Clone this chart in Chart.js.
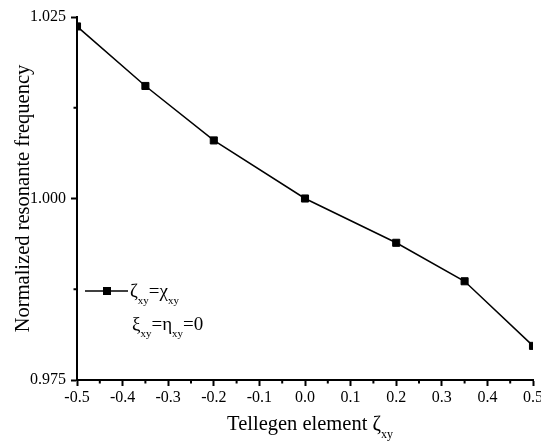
<!DOCTYPE html>
<html><head><meta charset="utf-8">
<script src="https://cdn.jsdelivr.net/npm/chart.js@4.4.1/dist/chart.umd.min.js"></script>
<style>html,body{margin:0;padding:0;overflow:hidden;background:#fff;width:541px;height:441px}</style>
</head><body>
<canvas id="c" width="560" height="441"></canvas>
<script>
// ---- data ----
const tellegen = [-0.5, -0.35, -0.2, 0.0, 0.2, 0.35, 0.5];
const normFreq = [1.0237, 1.0155, 1.0080, 1.0000, 0.9939, 0.9886, 0.9797];
const xTickValues = [-0.5, -0.4, -0.3, -0.2, -0.1, 0.0, 0.1, 0.2, 0.3, 0.4, 0.5];
const xTickLabels = ['-0.5', '-0.4', '-0.3', '-0.2', '-0.1', '0.0', '0.1', '0.2', '0.3', '0.4', '0.5'];
const xMinorTicks = [-0.45, -0.35, -0.25, -0.15, -0.05, 0.05, 0.15, 0.25, 0.35, 0.45];
const yTickValues = [0.975, 1.000, 1.025];
const yTickLabels = ['0.975', '1.000', '1.025'];
const yMinorTicks = [0.9875, 1.0125];
const yTitleText = 'Normalized resonante frequency';
const xTitleParts = [['Tellegen element ζ', 'xy']];
const legendRows = [
  [['ζ', 'xy'], ['=χ', 'xy']],
  [['ξ', 'xy'], ['=η', 'xy'], ['=0', '']]
];

const FONT = 'Liberation Serif';
const points = tellegen.map((x, i) => ({x: x, y: normFreq[i]}));

function drawRich(ctx, parts, x, baseline, size, subSize, subDrop) {
  let cx = x;
  for (const [main, sub] of parts) {
    ctx.font = size + 'px "' + FONT + '"';
    ctx.fillText(main, cx, baseline);
    cx += ctx.measureText(main).width;
    if (sub) {
      ctx.font = subSize + 'px "' + FONT + '"';
      ctx.fillText(sub, cx, baseline + subDrop);
      cx += ctx.measureText(sub).width;
    }
  }
  return cx - x;
}
function richWidth(ctx, parts, size, subSize) {
  let w = 0;
  for (const [main, sub] of parts) {
    ctx.font = size + 'px "' + FONT + '"'; w += ctx.measureText(main).width;
    if (sub) { ctx.font = subSize + 'px "' + FONT + '"'; w += ctx.measureText(sub).width; }
  }
  return w;
}

const extras = {
  id: 'extras',
  afterDraw(chart) {
    const ctx = chart.ctx;
    const xs = chart.scales.x, ys = chart.scales.y;
    const area = chart.chartArea;
    ctx.save();
    // minor ticks
    ctx.strokeStyle = '#000'; ctx.lineWidth = 2;
    ctx.beginPath();
    for (const v of xMinorTicks) {
      const px = xs.getPixelForValue(v);
      ctx.moveTo(px, area.bottom); ctx.lineTo(px, area.bottom + 3.5);
    }
    for (const v of yMinorTicks) {
      const py = ys.getPixelForValue(v);
      ctx.moveTo(area.left, py); ctx.lineTo(area.left - 3.5, py);
    }
    ctx.stroke();
    // x title with subscript
    ctx.fillStyle = '#000'; ctx.textBaseline = 'alphabetic'; ctx.textAlign = 'left';
    const tw = richWidth(ctx, xTitleParts, 20.5, 12);
    drawRich(ctx, xTitleParts, (area.left + area.right) / 2 + 5 - tw / 2, 430, 20.5, 12, 8);
    // legend
    const ly = 291;
    ctx.lineWidth = 1.5;
    ctx.beginPath(); ctx.moveTo(85, ly); ctx.lineTo(128, ly); ctx.stroke();
    ctx.fillRect(103, ly - 4, 8, 8);
    drawRich(ctx, legendRows[0], 130, 297, 19, 11, 7);
    drawRich(ctx, legendRows[1], 132, 330, 19, 11, 7);
    ctx.restore();
  }
};

new Chart(document.getElementById('c'), {
  type: 'line',
  data: {
    datasets: [{
      data: points,
      borderColor: '#000',
      backgroundColor: '#000',
      borderWidth: 1.5,
      pointStyle: 'rect',
      pointRadius: 5,
      pointBorderWidth: 1,
      pointBackgroundColor: '#000',
      pointBorderColor: '#000',
      tension: 0,
      clip: 0
    }]
  },
  options: {
    responsive: false,
    animation: false,
    events: [],
    layout: {padding: {top: 17, right: 27, left: 0, bottom: 0}},
    plugins: {legend: {display: false}, tooltip: {enabled: false}},
    scales: {
      x: {
        type: 'linear', min: -0.5, max: 0.5,
        afterBuildTicks(s) { s.ticks = xTickValues.map(v => ({value: v})); },
        afterFit(s) { s.height = 61; },
        ticks: {
          callback: (v, i) => xTickLabels[i],
          font: {family: FONT, size: 16}, color: '#000', padding: 2, maxRotation: 0, autoSkip: false
        },
        grid: {drawOnChartArea: false, drawTicks: true, tickLength: 6, tickWidth: 2, tickColor: '#000'},
        border: {display: true, color: '#000', width: 2}
      },
      y: {
        type: 'linear', min: 0.975, max: 1.025,
        afterBuildTicks(s) { s.ticks = yTickValues.map(v => ({value: v})); },
        afterFit(s) { s.width = 77; },
        ticks: {
          callback: (v, i) => yTickLabels[i],
          font: {family: FONT, size: 16}, color: '#000', padding: 5, autoSkip: false
        },
        title: {display: true, text: yTitleText, font: {family: FONT, size: 20.5}, color: '#000', padding: {top: 11, bottom: 0}},
        grid: {drawOnChartArea: false, drawTicks: true, tickLength: 6, tickWidth: 2, tickColor: '#000'},
        border: {display: true, color: '#000', width: 2}
      }
    }
  },
  plugins: [extras]
});
</script>
</body></html>
